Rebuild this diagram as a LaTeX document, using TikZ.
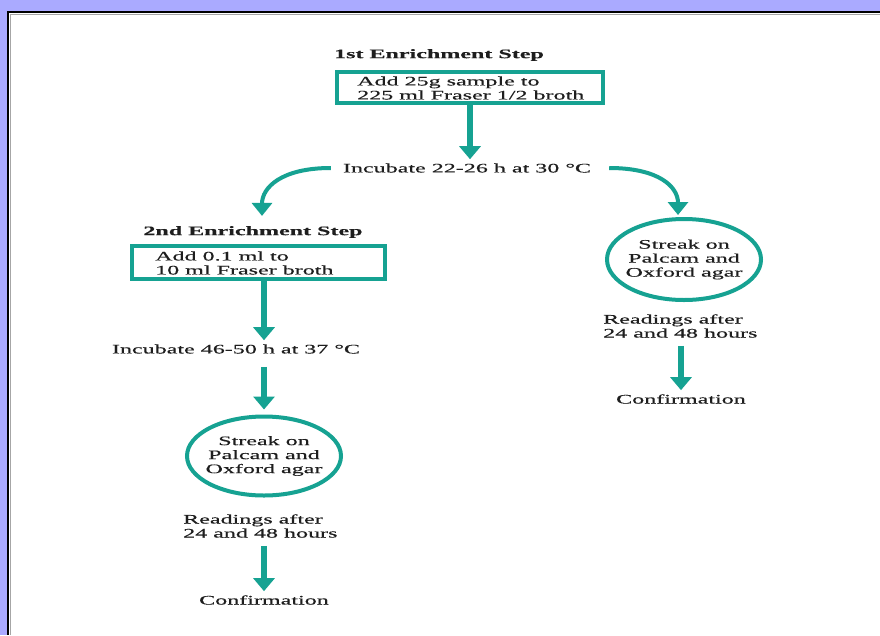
\documentclass[tikz,border=0pt]{standalone}
\usepackage{fontspec}
\setmainfont{Liberation Serif}[FakeStretch=1.85,FakeBold=0.4]
\usetikzlibrary{arrows.meta,shapes.geometric}
\definecolor{tealc}{RGB}{22,162,146}
\definecolor{lav}{RGB}{170,170,255}
\definecolor{ink}{RGB}{30,30,30}
\begin{document}
\begin{tikzpicture}[x=1pt,y=-1pt,
  every node/.style={font=\fontsize{13}{14}\selectfont, text=ink, inner sep=0pt},
  headtxt/.style={font=\bfseries\fontsize{13}{14}\selectfont},
  boxnode/.style={draw=tealc, line width=4pt},
  oval/.style={ellipse, draw=tealc, line width=4pt, inner xsep=-8pt, inner ysep=0pt, minimum width=154pt, minimum height=79pt, align=center},
  arr/.style={draw=tealc, line width=6pt, -{Triangle[width=21pt,length=13pt]}},
  carr/.style={draw=tealc, line width=4pt, -{Triangle[width=20pt,length=13pt]}}]
\useasboundingbox (0,0) rectangle (880,635);
\fill[lav] (0,0) rectangle (880,635);
\fill[white] (9,13) rectangle (880,635);
\draw[black, line width=2pt] (8,635) -- (8,12) -- (880,12);
\draw[black!35, line width=1pt] (10.5,635) -- (10.5,14.5) -- (880,14.5);

% top branch
\node[headtxt] (h1) at (439,55) {1st Enrichment Step};
\node[boxnode, minimum width=266pt, minimum height=31pt] (box1) at (470,87.5) {};
\node[anchor=west, align=left] (t1) at (357,88) {Add 25g sample to\\225 ml Fraser 1/2 broth};
\node (inc1) at (467,168) {Incubate 22-26 h at 30 °C};

% left branch
\node[headtxt] (h2) at (253,232) {2nd Enrichment Step};
\node[boxnode, minimum width=253pt, minimum height=33pt] (box2) at (258.5,262.5) {};
\node[anchor=west, align=left] (t2) at (155,263) {Add 0.1 ml to\\10 ml Fraser broth};
\node (inc2) at (236,349) {Incubate 46-50 h at 37 °C};
\node[oval] (e1) at (264,456) {Streak on\\Palcam and\\Oxford agar};
\node[anchor=west, align=left] (r1) at (183,526) {Readings after\\24 and 48 hours};
\node (c1) at (264,600) {Confirmation};

% right branch
\node[oval, minimum height=81pt] (e2) at (684,259.5) {Streak on\\Palcam and\\Oxford agar};
\node[anchor=west, align=left] (r2) at (603,326) {Readings after\\24 and 48 hours};
\node (c2) at (681,399) {Confirmation};

% connectors
\draw[arr, shorten >=4pt] (box1.south) -- (box1.south |- inc1.north);
\draw[carr] ([xshift=-12pt]inc1.west) .. controls +(-50,0) and +(0,-28) .. ([xshift=-2pt,yshift=10pt]h2.north -| e1.north);
\draw[carr] ([xshift=18pt]inc1.east) .. controls +(50,0) and +(0,-28) .. ([xshift=-6pt,yshift=2pt]e2.north);
\draw[arr, shorten >=4pt] (e1.north |- box2.south) -- (e1.north |- inc2.north);
\draw[arr, shorten <=13pt, shorten >=5pt] (e1.north |- inc2.south) -- (e1.north);
\draw[arr, shorten <=8pt, shorten >=4pt] (c1.north |- r1.south) -- (c1.north);
\draw[arr, shorten <=8pt, shorten >=4pt] (c2.north |- r2.south) -- (c2.north);
\end{tikzpicture}
\end{document}
